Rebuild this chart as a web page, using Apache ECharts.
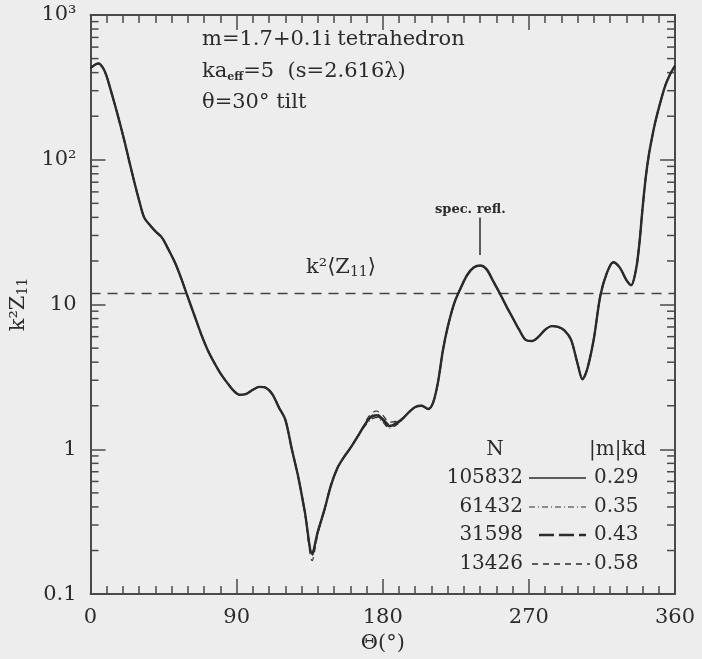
<!DOCTYPE html>
<html>
<head>
<meta charset="utf-8">
<script src="https://cdn.jsdelivr.net/npm/echarts@6/dist/echarts.min.js"></script>
<style>
  html, body { margin: 0; padding: 0; background: #ededed; }
  #chart { width: 702px; height: 659px; }
</style>
</head>
<body>
<div id="chart"></div>
<script>
// scattering angle (deg)
const angles = [
    0, 3, 5, 8, 10, 12, 15, 18, 21, 24, 27, 30, 33, 36,
    40, 44, 48, 52, 56, 60, 64, 68, 72, 76, 80, 84, 88, 92, 96, 100, 104, 108, 112, 116, 120, 124, 128, 132, 136.5,
    140, 144, 148, 152, 156, 160, 164, 168, 172, 176, 180, 184, 188, 192, 196, 200, 204, 208,
    211, 214, 217,
    220, 224, 228, 232, 236, 240, 244, 248, 252, 256, 260, 264, 268, 272, 276, 280, 284, 288, 292, 296, 300,
    303, 306,
    310, 314, 318, 322, 326, 330,
    333, 336, 338, 340, 342, 344, 346, 348,
    351, 354, 357, 360
];

// k^2 Z11 for each dipole count N
const z11N105832 = [
    430, 455, 462, 425, 375, 315, 240, 180, 133, 96, 70, 52, 40, 36,
    32, 29, 24, 19.5, 15, 11.2, 8.4, 6.3, 4.9, 4.0, 3.35, 2.9, 2.55, 2.38, 2.42, 2.58, 2.7, 2.66, 2.4, 1.95, 1.6, 1.0, 0.64, 0.37, 0.19,
    0.27, 0.38, 0.56, 0.74, 0.88, 1.02, 1.2, 1.42, 1.64, 1.72, 1.6, 1.45, 1.5, 1.62, 1.8, 1.96, 2.0, 1.9,
    2.1, 2.9, 4.8,
    7.0, 10.2, 13, 16, 18, 18.6, 17.5, 14.5, 12, 9.8, 8.1, 6.7, 5.7, 5.6, 6.0, 6.7, 7.1, 7.0, 6.6, 5.7, 3.9,
    3.05, 3.6,
    5.8, 11.5, 16.5, 19.6, 18, 14.8,
    13.6, 17.5, 26, 46, 76, 110, 145, 185,
    250, 325, 390, 445
];
const z11N61432 = [
    430, 455, 462, 425, 375, 315, 240, 180, 133, 96, 70, 52, 40, 36,
    32, 29, 24, 19.5, 15, 11.2, 8.4, 6.3, 4.9, 4.0, 3.35, 2.9, 2.55, 2.38, 2.42, 2.58, 2.7, 2.66, 2.4, 1.95, 1.6, 1.0, 0.64, 0.37, 0.19,
    0.27, 0.38, 0.56, 0.74, 0.88, 1.02, 1.2, 1.4, 1.58, 1.66, 1.54, 1.4, 1.46, 1.6, 1.8, 1.96, 2.0, 1.9,
    2.1, 2.9, 4.8,
    7.0, 10.2, 13, 16, 18, 18.6, 17.5, 14.5, 12, 9.8, 8.1, 6.7, 5.7, 5.6, 6.0, 6.7, 7.1, 7.0, 6.6, 5.7, 3.9,
    3.05, 3.6,
    5.8, 11.5, 16.5, 19.6, 18, 14.8,
    13.6, 17.5, 26, 46, 76, 110, 145, 185,
    250, 325, 390, 445
];
const z11N31598 = [
    430, 455, 462, 425, 375, 315, 240, 180, 133, 96, 70, 52, 40, 36,
    32, 29, 24, 19.5, 15, 11.2, 8.4, 6.3, 4.9, 4.0, 3.35, 2.9, 2.55, 2.38, 2.42, 2.58, 2.7, 2.66, 2.4, 1.95, 1.6, 1.0, 0.64, 0.37, 0.185,
    0.27, 0.38, 0.56, 0.74, 0.88, 1.02, 1.2, 1.42, 1.66, 1.75, 1.63, 1.48, 1.52, 1.62, 1.8, 1.96, 2.0, 1.9,
    2.1, 2.9, 4.8,
    7.0, 10.2, 13, 16, 18, 18.6, 17.5, 14.5, 12, 9.8, 8.1, 6.7, 5.7, 5.6, 6.0, 6.7, 7.1, 7.0, 6.6, 5.7, 3.9,
    3.05, 3.6,
    5.8, 11.5, 16.5, 19.6, 18, 14.8,
    13.6, 17.5, 26, 46, 76, 110, 145, 185,
    250, 325, 390, 445
];
const z11N13426 = [
    430, 455, 462, 425, 375, 315, 240, 180, 133, 96, 70, 52, 40, 36,
    32, 29, 24, 19.5, 15, 11.2, 8.4, 6.3, 4.9, 4.0, 3.35, 2.9, 2.55, 2.38, 2.42, 2.58, 2.7, 2.66, 2.4, 1.95, 1.6, 1.0, 0.64, 0.36, 0.17,
    0.26, 0.38, 0.56, 0.74, 0.88, 1.02, 1.2, 1.45, 1.72, 1.84, 1.72, 1.54, 1.56, 1.64, 1.8, 1.96, 2.0, 1.9,
    2.1, 2.9, 4.8,
    7.0, 10.2, 13, 16, 18, 18.6, 17.5, 14.5, 12, 9.8, 8.1, 6.7, 5.7, 5.6, 6.0, 6.7, 7.1, 7.0, 6.6, 5.7, 3.9,
    3.05, 3.6,
    5.8, 11.5, 16.5, 19.6, 18, 14.8,
    13.6, 17.5, 26, 46, 76, 110, 145, 185,
    250, 325, 390, 445
];

const avgZ11 = 11.9; // k^2 <Z11>, orientational average
const specAngle = 240;

const legendN = ['105832', '61432', '31598', '13426'];
const legendKd = ['0.29', '0.35', '0.43', '0.58'];

const yTickLabels = { 0.1: '0.1', 1: '1', 10: '10', 100: '10²', 1000: '10³' };

// minor ticks of the log axis (2..9 in each decade)
const minorLogTicks = [];
[0.1, 1, 10, 100].forEach(d => {
    for (let k = 2; k <= 9; k++) minorLogTicks.push(+(d * k).toPrecision(3));
});

const FONT = 'DejaVu Serif';
const INK = '#2b2b2b';
const AXIS = '#4a4a4a';

function pairs(vals) {
    return angles.map((a, i) => [a, vals[i]]);
}

const chart = echarts.init(document.getElementById('chart'));

const xAxisBase = {
    type: 'value', min: 0, max: 360, interval: 90,
    axisLine: { show: true, onZero: false, lineStyle: { color: AXIS, width: 2 } },
    axisTick: { inside: true, length: 15, lineStyle: { color: AXIS, width: 1.5 } },
    minorTick: { show: true, splitNumber: 9, length: 8, lineStyle: { color: AXIS, width: 1.5 } },
    splitLine: { show: false }
};
const yAxisBase = {
    type: 'log', logBase: 10, min: 0.1, max: 1000,
    axisLine: { show: true, onZero: false, lineStyle: { color: AXIS, width: 2 } },
    axisTick: { inside: true, length: 15, lineStyle: { color: AXIS, width: 1.5 } },
    splitLine: { show: false }
};

const lineSeries = [
    { data: z11N105832, width: 2.4, type: 'solid' },
    { data: z11N61432, width: 1.2, type: [6, 3, 1, 3] },
    { data: z11N31598, width: 1.8, type: [15, 5] },
    { data: z11N13426, width: 1.2, type: [6, 5] }
].map((s, i) => ({
    type: 'line',
    name: legendN[i],
    data: pairs(s.data),
    smooth: 0.3,
    showSymbol: false,
    silent: true,
    z: 10 - i,
    lineStyle: { color: INK, width: s.width, type: s.type }
}));

const legendRows = [478, 507, 535, 564];
const legendDash = [
    { x1: 529, x2: 586, w: 1.5, d: 'solid' },
    { x1: 529, x2: 586, w: 1.2, d: [6, 3, 1, 3] },
    { x1: 539, x2: 586, w: 2.5, d: [15, 5] },
    { x1: 532, x2: 590, w: 1.5, d: [6, 5] }
];

const graphics = [
    {
        type: 'text', left: 202, top: 29,
        style: { text: 'm=1.7+0.1i tetrahedron', font: '21px "DejaVu Serif"', fill: INK }
    },
    {
        type: 'text', left: 202, top: 61,
        style: {
            text: '{t|ka}{s|eff}{t|=5  (s=2.616λ)}', fill: INK,
            rich: {
                t: { fontFamily: FONT, fontSize: 21, color: INK },
                s: { fontFamily: FONT, fontSize: 11, fontWeight: 'bold', color: INK, verticalAlign: 'bottom', padding: [12, 0, 0, 0] }
            }
        }
    },
    {
        type: 'text', left: 202, top: 92,
        style: { text: 'θ=30° tilt', font: '21px "DejaVu Serif"', fill: INK }
    },
    {
        type: 'text', left: 435, top: 203,
        style: { text: 'spec. refl.', font: 'bold 13px "DejaVu Serif"', fill: INK }
    },
    {
        type: 'text', left: 306, top: 257,
        style: {
            text: '{t|k²⟨Z}{s|11}{t|⟩}', fill: INK,
            rich: {
                t: { fontFamily: FONT, fontSize: 21, color: INK },
                s: { fontFamily: FONT, fontSize: 14, color: INK, padding: [10, 0, 0, 0] }
            }
        }
    },
    {
        type: 'text', x: 495, y: 450,
        style: { text: 'N', font: '20px "DejaVu Serif"', fill: INK, align: 'center', verticalAlign: 'middle' }
    },
    {
        type: 'text', x: 589, y: 450,
        style: { text: '|m|kd', font: '20px "DejaVu Serif"', fill: INK, align: 'left', verticalAlign: 'middle' }
    }
];
legendRows.forEach((y, i) => {
    graphics.push({
        type: 'text', x: 523, y: y,
        style: { text: legendN[i], font: '20px "DejaVu Serif"', fill: INK, align: 'right', verticalAlign: 'middle' }
    });
    graphics.push({
        type: 'text', x: 594, y: y,
        style: { text: legendKd[i], font: '20px "DejaVu Serif"', fill: INK, align: 'left', verticalAlign: 'middle' }
    });
    const d = legendDash[i];
    graphics.push({
        type: 'line', shape: { x1: d.x1, y1: y, x2: d.x2, y2: y },
        style: { stroke: INK, lineWidth: d.w, lineDash: d.d === 'solid' ? null : d.d }
    });
});

const option = {
    backgroundColor: '#ededed',
    animation: false,
    grid: { left: 88, right: 27, top: 15, bottom: 62 },
    xAxis: [
        Object.assign({}, xAxisBase, {
            position: 'bottom',
            name: 'Θ(°)', nameLocation: 'middle', nameGap: 36,
            nameTextStyle: { fontFamily: FONT, fontSize: 21, color: INK },
            axisLabel: { fontFamily: FONT, fontSize: 21, color: INK, margin: 13 }
        }),
        Object.assign({}, xAxisBase, { position: 'top', axisLabel: { show: false } })
    ],
    yAxis: [
        Object.assign({}, yAxisBase, {
            position: 'left',
            name: '{t|k²Z}{s|11}', nameLocation: 'middle', nameGap: 46, nameRotate: 90,
            nameTextStyle: {
                rich: {
                    t: { fontFamily: FONT, fontSize: 21, color: INK },
                    s: { fontFamily: FONT, fontSize: 14, color: INK, padding: [10, 0, 0, 0] }
                }
            },
            axisLabel: {
                fontFamily: FONT, fontSize: 21, color: INK, margin: 14,
                formatter: v => yTickLabels[+v.toPrecision(3)] || ''
            }
        }),
        Object.assign({}, yAxisBase, { position: 'right', axisLabel: { show: false } })
    ],
    graphic: graphics,
    series: lineSeries.concat([
        {
            type: 'line',
            data: [[0, avgZ11], [360, avgZ11]],
            showSymbol: false,
            silent: true,
            lineStyle: { color: '#444', width: 1.5, type: [10, 7] },
            markLine: {
                symbol: 'none', silent: true, label: { show: false },
                lineStyle: { color: INK, width: 1.5, type: 'solid' },
                data: [[{ coord: [specAngle, 40] }, { coord: [specAngle, 22] }]]
            }
        },
        {
            type: 'custom',
            silent: true,
            clip: false,
            data: minorLogTicks.map(v => [0, v]),
            renderItem: function (params, api) {
                const v = api.value(1);
                const pl = api.coord([0, v]);
                const pr = api.coord([360, v]);
                const st = { stroke: AXIS, lineWidth: 1.5 };
                return {
                    type: 'group',
                    children: [
                        { type: 'line', shape: { x1: pl[0], y1: pl[1], x2: pl[0] + 8, y2: pl[1] }, style: st },
                        { type: 'line', shape: { x1: pr[0], y1: pr[1], x2: pr[0] - 8, y2: pr[1] }, style: st }
                    ]
                };
            }
        }
    ])
};
chart.setOption(option);
</script>
</body>
</html>
